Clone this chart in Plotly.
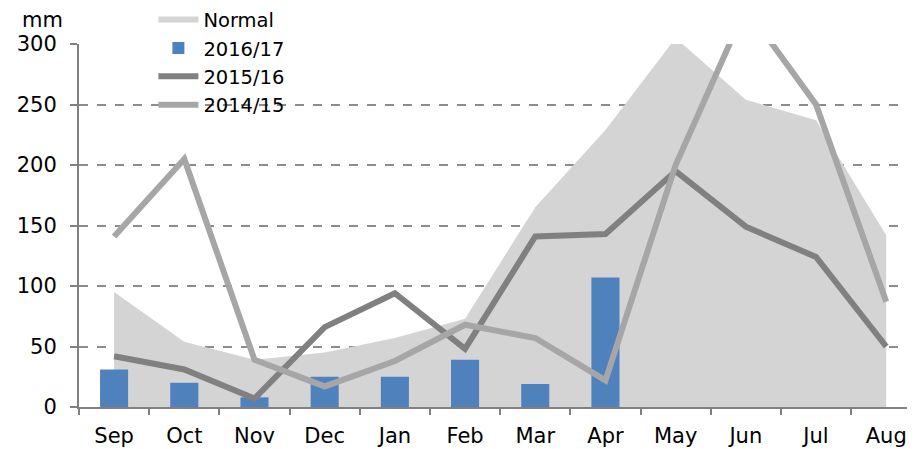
import plotly.graph_objects as go

months = ["Sep", "Oct", "Nov", "Dec", "Jan", "Feb", "Mar", "Apr", "May", "Jun", "Jul", "Aug"]
normal = [95, 54, 39, 45, 57, 73, 165, 229, 305, 254, 237, 142]
s2016_17 = [31, 20, 8, 25, 25, 39, 19, 107, None, None, None, None]
s2015_16 = [42, 31, 7, 66, 94, 48, 141, 143, 195, 149, 124, 50]
s2014_15 = [141, 205, 39, 17, 38, 68, 57, 22, 200, 330, 250, 87]
y_ticks = [0, 50, 100, 150, 200, 250, 300]

FONT = "DejaVu Sans"
FS = 21
XR = [-0.5, 11.41]
YR = [0, 300]

fig = go.Figure()
fig.add_trace(go.Scatter(x=months, y=normal, name="Normal", mode="none",
                         fill="tozeroy", fillcolor="#D4D4D4"))
fig.add_trace(go.Bar(x=months, y=s2016_17, name="2016/17", marker_color="#4F81BD",
                     width=0.4, marker_line_width=0, xaxis="x2", yaxis="y2"))
fig.add_trace(go.Scatter(x=months, y=s2015_16, name="2015/16", mode="lines",
                         line=dict(color="#808080", width=6), xaxis="x2", yaxis="y2"))
fig.add_trace(go.Scatter(x=months, y=s2014_15, name="2014/15", mode="lines",
                         line=dict(color="#A6A6A6", width=6), xaxis="x2", yaxis="y2"))

fig.update_layout(
    width=907, height=441,
    margin=dict(l=71, r=0, t=36, b=42, autoexpand=False),
    plot_bgcolor="white", paper_bgcolor="white",
    font=dict(family=FONT, size=FS, color="#000000"),
    showlegend=True,
    legend=dict(x=0.089, y=1.12, xanchor="left", yanchor="top",
                bgcolor="rgba(0,0,0,0)", itemwidth=40, tracegroupgap=0,
                font=dict(size=19.5), traceorder="normal"),
    xaxis=dict(type="category", categoryarray=months, range=XR, showline=True,
               linecolor="#808080", linewidth=2, ticks="outside", ticklen=6,
               tickcolor="#808080", tickwidth=1.5, tickson="boundaries",
               showgrid=False, tickfont=dict(size=FS), automargin=False,
               ticklabelstandoff=9),
    yaxis=dict(range=YR, tickvals=y_ticks, showline=True, linecolor="#808080",
               linewidth=2, ticks="outside", ticklen=7, tickcolor="#808080",
               tickwidth=1.5, showgrid=True, gridcolor="#8C8C8C", griddash="dash",
               gridwidth=1.5, zeroline=False, tickfont=dict(size=FS),
               automargin=False, ticklabelstandoff=9),
    xaxis2=dict(type="category", categoryarray=months, range=XR, overlaying="x",
                visible=False),
    yaxis2=dict(range=YR, overlaying="y", visible=False),
    annotations=[dict(text="mm", xref="paper", yref="paper", x=-0.044, y=1.066,
                      xanchor="center", yanchor="middle", showarrow=False,
                      font=dict(size=FS))],
)

fig.write_html("out.html")
